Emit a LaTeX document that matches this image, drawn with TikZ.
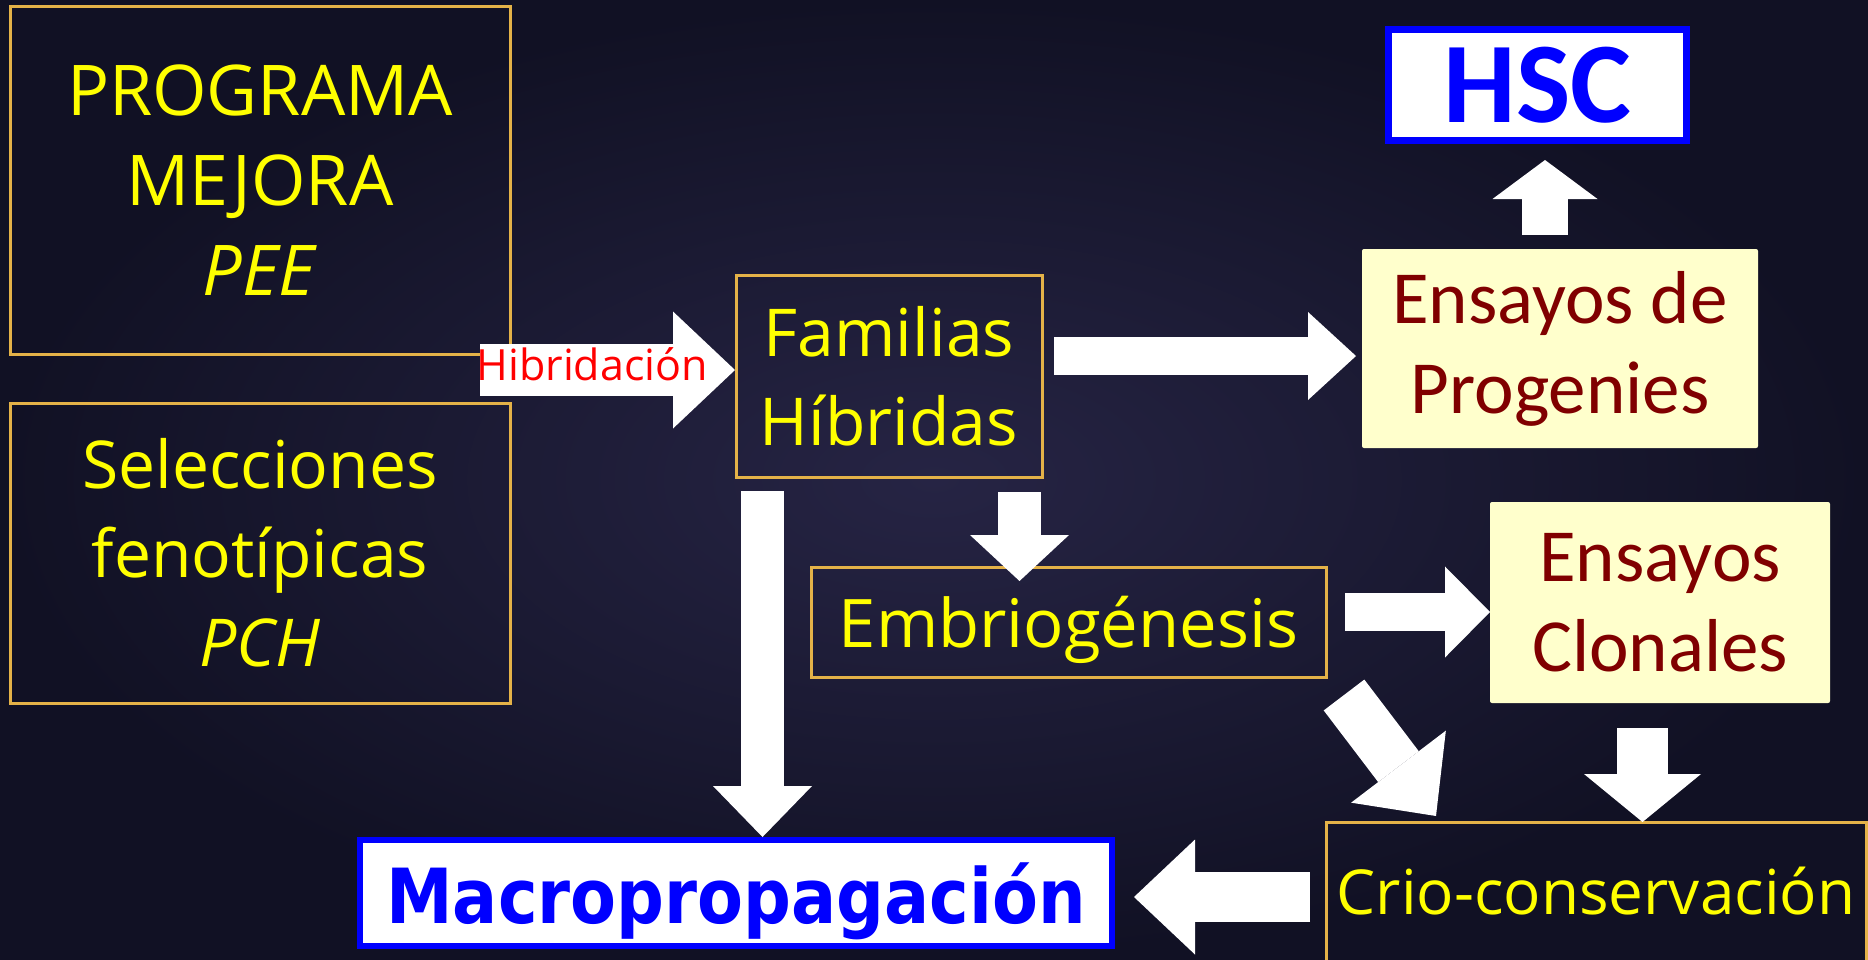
\documentclass[tikz,border=0pt]{standalone}
\usepackage{fontspec}
\setmainfont{Open Sans}
\newfontfamily\calfont{Carlito}
\newfontfamily\condfont[FakeStretch=0.88]{DejaVu Sans}
\usetikzlibrary{arrows.meta,calc}
\definecolor{bgin}{RGB}{38,36,68}
\definecolor{bgout}{RGB}{17,17,36}
\definecolor{boxline}{RGB}{228,178,72}
\definecolor{yel}{RGB}{255,255,0}
\definecolor{darkred}{RGB}{128,0,0}
\definecolor{paleyel}{RGB}{255,255,204}
\definecolor{hibred}{RGB}{255,0,0}
\tikzset{goldbox/.style={draw=boxline, line width=3pt, text=yel, align=center,
         inner sep=0pt, outer sep=0pt, font=\fontsize{66}{89}\selectfont},
         creambox/.style={fill=paleyel, rounded corners=2pt, text=darkred, align=center,
         inner sep=0pt, outer sep=0pt, font=\calfont\fontsize{75}{90}\selectfont},
         bluebox/.style={fill=white, draw=blue, text=blue, inner sep=0pt, outer sep=0pt},
         bigarrow/.style n args={3}{white, line width=#1,
         -{Triangle[width=#2, length=#3, line width=0pt]}}}

\begin{document}
\begin{tikzpicture}[x=1pt, y=-1pt]
\shade[inner color=bgin, outer color=bgout] (0,0) rectangle (1868,959);
\useasboundingbox (0,0) rectangle (1868,959);

\node[goldbox, minimum width=500pt, minimum height=348pt, font=\fontsize{70}{90}\selectfont]
  (prog) at (260,180) {PROGRAMA\\MEJORA\\\textit{PEE}};
\node[goldbox, minimum width=500pt, minimum height=300pt]
  (sel) at (260,553) {Selecciones\\fenotípicas\\\textit{PCH}};
\node[goldbox, minimum width=306pt, minimum height=202pt] (fam) at (889,376) {Familias\\Híbridas};
\node[goldbox, minimum width=515pt, minimum height=110pt, text height=50pt, text depth=0pt,
  font=\fontsize{67}{89}\selectfont] (emb) at (1068.5,622) {Embriogénesis};
\node[goldbox, minimum width=540pt, minimum height=178pt, text height=48pt, text depth=42pt,
  font=\fontsize{62}{80}\selectfont] (crio) at (1596,911) {Crio-conservación};
\node[creambox, minimum width=396pt, minimum height=199pt] (ensprog) at (1560,348.5) {Ensayos de\\Progenies};
\node[creambox, minimum width=340pt, minimum height=201pt] (ensclon) at (1660,602.5) {Ensayos\\Clonales};
\node[bluebox, line width=7pt, minimum width=298pt, minimum height=111pt,
  font=\calfont\bfseries\fontsize{115}{115}\selectfont] (hsc) at (1537.5,85) {HSC};
\node[bluebox, line width=6pt, minimum width=752pt, minimum height=106pt, text height=60pt, text depth=0pt,
  font=\condfont\bfseries\fontsize{76}{76}\selectfont] (macro) at (736,893) {Macropropagación};

\draw[bigarrow={52pt}{117pt}{62pt}] ($(prog.east |- fam.west)+(-30,-6)$) --
  node[pos=0.44, yshift=6pt, text=hibred, font=\fontsize{43}{43}\selectfont] (hib) {Hibridación}
  ($(fam.west)+(-1,-6)$);
\draw[bigarrow={38pt}{88pt}{48pt}] ($(fam.east)+(12,-20)$) -- ($(fam.east -| ensprog.west)+(-6,-20)$);
\draw[bigarrow={46pt}{105pt}{39pt}] ($(ensprog.north)+(-15,-14)$) coordinate (up) -- ($(up |- hsc.south)+(0,19.5)$);
\draw[bigarrow={43pt}{99pt}{46pt}] ($(fam.south)+(130.5,15)$) coordinate (dn) -- ($(dn |- emb.north)+(0,14)$);
\draw[bigarrow={43pt}{99pt}{51pt}] ($(fam.south west)+(26.5,14)$) coordinate (dl) -- ($(dl |- macro.north)+(0,-3)$);
\draw[bigarrow={38pt}{91pt}{45pt}] ($(emb.east)+(19,-10)$) coordinate (rt) -- (rt -| ensclon.west);
\draw[bigarrow={51pt}{119pt}{62pt}] ($(emb.south east)+(18,18)$) -- ($(crio.north west)+(110,-6)$);
\draw[bigarrow={51pt}{117pt}{48pt}] ($(ensclon.south)+(-17.5,25)$) coordinate (cl) -- (cl |- crio.north);
\draw[bigarrow={50pt}{115pt}{61pt}] ($(crio.west)+(-16,-14)$) coordinate (lf) -- ($(lf -| macro.east)+(22,0)$);
\end{tikzpicture}
\end{document}
